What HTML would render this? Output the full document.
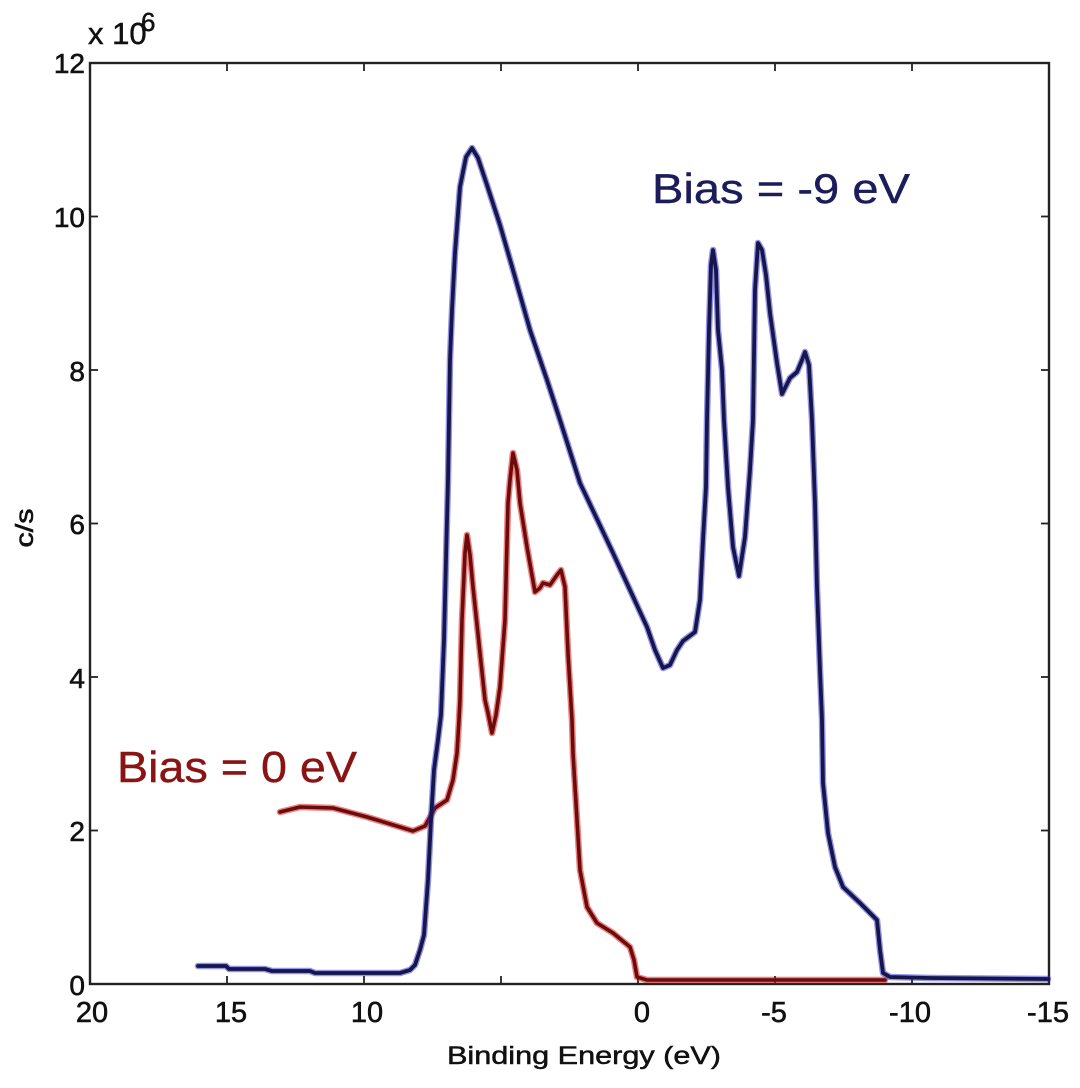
<!DOCTYPE html>
<html><head><meta charset="utf-8"><style>
html,body{margin:0;padding:0;background:#fff;}
svg{display:block;}
text{font-family:"Liberation Sans",Arial,sans-serif;}
</style></head><body>
<svg width="1080" height="1088" viewBox="0 0 1080 1088" xmlns="http://www.w3.org/2000/svg">
<rect width="1080" height="1088" fill="#fff"/>
<!-- axes box -->
<g stroke="#222" stroke-width="2.4" fill="none">
<rect x="90" y="63" width="959" height="921"/>
</g>
<!-- ticks -->
<g stroke="#222" stroke-width="1.8">
<line x1="227" y1="984" x2="227" y2="976"/><line x1="227" y1="63" x2="227" y2="71"/>
<line x1="364" y1="984" x2="364" y2="976"/><line x1="364" y1="63" x2="364" y2="71"/>
<line x1="501" y1="984" x2="501" y2="976"/><line x1="501" y1="63" x2="501" y2="71"/>
<line x1="638" y1="984" x2="638" y2="976"/><line x1="638" y1="63" x2="638" y2="71"/>
<line x1="775" y1="984" x2="775" y2="976"/><line x1="775" y1="63" x2="775" y2="71"/>
<line x1="912" y1="984" x2="912" y2="976"/><line x1="912" y1="63" x2="912" y2="71"/>
<line x1="90" y1="830.5" x2="98" y2="830.5"/><line x1="1049" y1="830.5" x2="1041" y2="830.5"/>
<line x1="90" y1="677" x2="98" y2="677"/><line x1="1049" y1="677" x2="1041" y2="677"/>
<line x1="90" y1="523.5" x2="98" y2="523.5"/><line x1="1049" y1="523.5" x2="1041" y2="523.5"/>
<line x1="90" y1="370" x2="98" y2="370"/><line x1="1049" y1="370" x2="1041" y2="370"/>
<line x1="90" y1="216.5" x2="98" y2="216.5"/><line x1="1049" y1="216.5" x2="1041" y2="216.5"/>
</g>
<!-- y tick labels -->
<g font-size="28" fill="#111" stroke="#111" stroke-width="0.6" text-anchor="end">
<text x="85" y="995">0</text>
<text x="85" y="841">2</text>
<text x="85" y="688">4</text>
<text x="85" y="534">6</text>
<text x="85" y="381">8</text>
<text x="85" y="227">10</text>
<text x="85" y="73">12</text>
</g>
<!-- x tick labels -->
<g font-size="29" fill="#111" stroke="#111" stroke-width="0.6" text-anchor="middle">
<text x="92" y="1022">20</text>
<text x="231" y="1022">15</text>
<text x="367" y="1022">10</text>
<text x="642" y="1022">0</text>
<text x="774" y="1022">-5</text>
<text x="910" y="1022">-10</text>
<text x="1048" y="1022">-15</text>
</g>
<!-- multiplier -->
<text x="88" y="44" font-size="31" fill="#111" stroke="#111" stroke-width="0.5">x 10</text>
<text x="141" y="31" font-size="26" fill="#111" stroke="#111" stroke-width="0.5">6</text>
<!-- axis labels -->
<text x="584" y="1064" font-size="25" fill="#111" stroke="#111" stroke-width="0.5" text-anchor="middle" textLength="274" lengthAdjust="spacingAndGlyphs">Binding Energy (eV)</text>
<text transform="translate(33,528) rotate(-90)" font-size="25" fill="#111" stroke="#111" stroke-width="0.6" text-anchor="middle" textLength="39" lengthAdjust="spacingAndGlyphs">c/s</text>

<!-- red series -->
<g fill="none" stroke-linejoin="round" stroke-linecap="round">
<polyline stroke="#e01818" stroke-opacity="0.55" stroke-width="6.5" points="280,812 300,807 333,808 367,817 400,827 413,831 425,826 435,808 447,800 453,780 457,753 459,720 460,700 462,620 465,553 467,535 470,555 473,587 480,653 485,700 488,713 492,733 496,715 500,687 505,620 508,503 510,480 513,453 517,470 520,503 527,547 535,592 540,588 543,583 550,585 557,575 561,570 565,587 568,653 572,720 573,753 577,820 580,870 587,907 597,923 613,933 630,947 634,960 637,977 647,980 885,980"/>
<polyline stroke="#6a0c0c" stroke-width="3.6" points="280,812 300,807 333,808 367,817 400,827 413,831 425,826 435,808 447,800 453,780 457,753 459,720 460,700 462,620 465,553 467,535 470,555 473,587 480,653 485,700 488,713 492,733 496,715 500,687 505,620 508,503 510,480 513,453 517,470 520,503 527,547 535,592 540,588 543,583 550,585 557,575 561,570 565,587 568,653 572,720 573,753 577,820 580,870 587,907 597,923 613,933 630,947 634,960 637,977 647,980 885,980"/>
</g>
<!-- blue series -->
<g fill="none" stroke-linejoin="round" stroke-linecap="round">
<polyline stroke="#2a2ad8" stroke-opacity="0.5" stroke-width="6.5" points="198,966 226,966 229,969 265,969 272,971 310,971 315,973 400,973 410,970 415,965 420,950 424,935 428,880 431,820 434,770 438,740 441,715 444,640 446,560 448,480 449,420 450,360 452,310 455,253 460,187 466,157 472,148 478,158 487,185 500,225 513,270 530,330 547,380 560,420 580,483 613,553 647,627 655,650 663,668 670,665 677,650 683,641 695,632 700,600 703,540 706,487 707,420 709,330 711,265 713,250 716,270 718,330 722,370 724,420 728,487 733,547 739,576 745,537 750,470 753,420 755,290 758,243 762,250 766,275 770,313 777,363 782,394 790,378 797,372 802,360 805,352 809,365 812,420 815,503 817,587 820,670 822,720 823,783 828,833 835,867 843,887 860,903 877,920 880,950 883,973 890,977 930,978 1048,979"/>
<polyline stroke="#16164a" stroke-width="3.8" points="198,966 226,966 229,969 265,969 272,971 310,971 315,973 400,973 410,970 415,965 420,950 424,935 428,880 431,820 434,770 438,740 441,715 444,640 446,560 448,480 449,420 450,360 452,310 455,253 460,187 466,157 472,148 478,158 487,185 500,225 513,270 530,330 547,380 560,420 580,483 613,553 647,627 655,650 663,668 670,665 677,650 683,641 695,632 700,600 703,540 706,487 707,420 709,330 711,265 713,250 716,270 718,330 722,370 724,420 728,487 733,547 739,576 745,537 750,470 753,420 755,290 758,243 762,250 766,275 770,313 777,363 782,394 790,378 797,372 802,360 805,352 809,365 812,420 815,503 817,587 820,670 822,720 823,783 828,833 835,867 843,887 860,903 877,920 880,950 883,973 890,977 930,978 1048,979"/>
</g>
<!-- annotations -->
<text x="652" y="203" font-size="42" fill="#1c1c5a" stroke="#1c1c5a" stroke-width="0.4" textLength="258" lengthAdjust="spacingAndGlyphs">Bias = -9 eV</text>
<text x="117" y="782" font-size="44" fill="#8a1414" stroke="#8a1414" stroke-width="0.4" textLength="240" lengthAdjust="spacingAndGlyphs">Bias = 0 eV</text>
</svg>
</body></html>
